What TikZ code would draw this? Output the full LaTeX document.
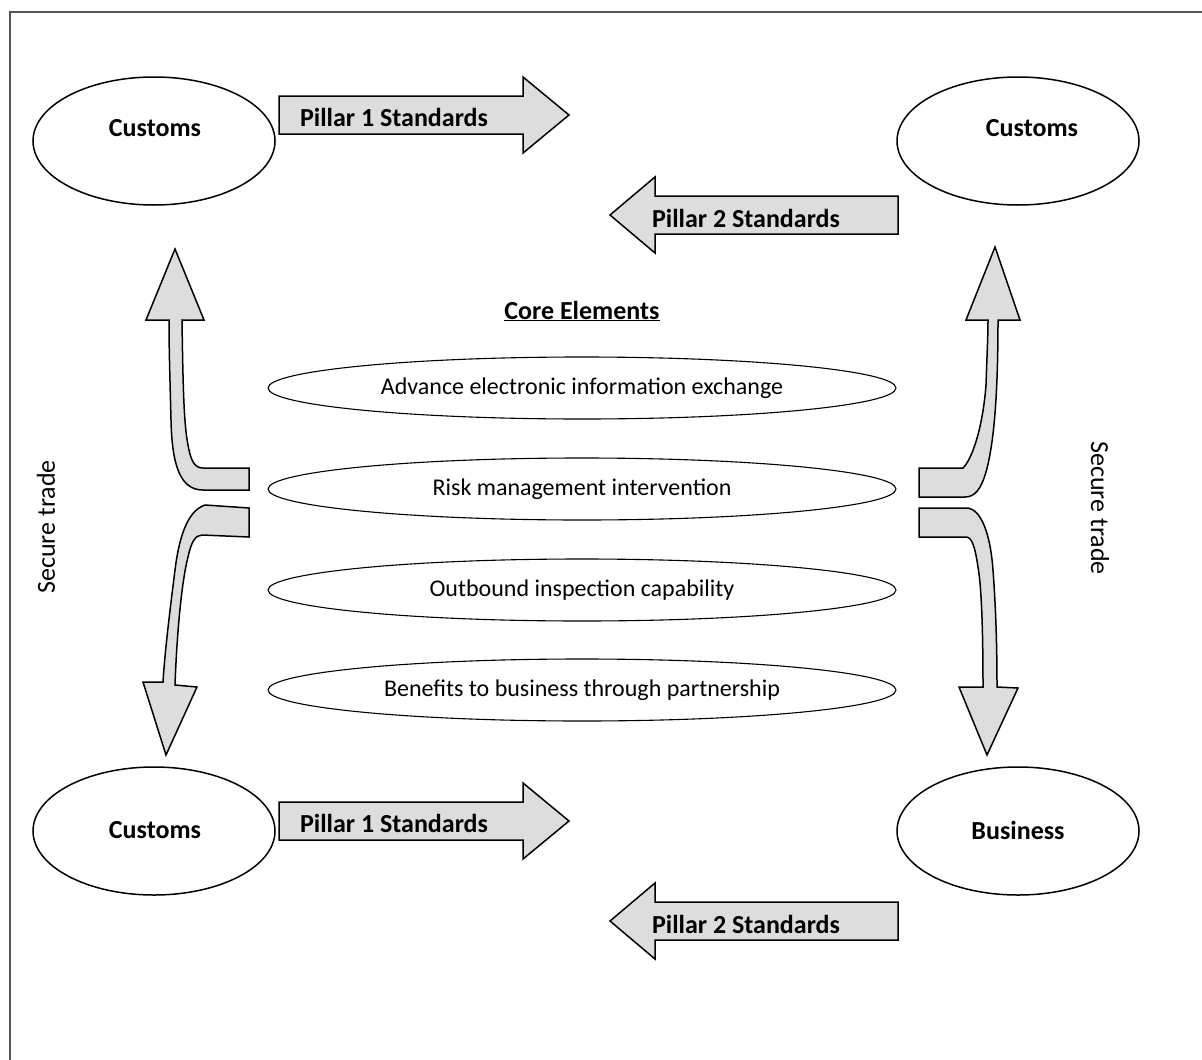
\documentclass[tikz,border=0pt]{standalone}
\usepackage{fontspec}
\setmainfont{Carlito}
\usepackage{tikz}
\usetikzlibrary{shapes.geometric, positioning, calc}
\definecolor{arrowgray}{HTML}{DDDDDD}
\definecolor{framegray}{HTML}{555555}

\tikzset{
  bigellipse/.style={ellipse, draw=black, line width=1.5pt, minimum width=242, minimum height=128, inner sep=0pt},
  coreellipse/.style={ellipse, draw=black, line width=1.1pt, minimum width=628, minimum height=62, inner sep=0pt},
  blockarrow/.style={fill=arrowgray, draw=black, line width=1.5pt, line join=miter},
  boldlabel/.style={font=\fontsize{26}{31}\selectfont\bfseries, inner sep=0pt},
  corelabel/.style={font=\fontsize{24}{29}\selectfont, inner sep=0pt},
  sidelabel/.style={font=\fontsize{26}{31}\selectfont, inner sep=0pt}
}

\begin{document}
\begin{tikzpicture}[x=1pt, y=-1pt]
  \useasboundingbox (0,0) rectangle (1202,1060);

  % Frame (only top and left edges show)
  \draw[framegray, line width=2pt] (10,1060) -- (10,12) -- (1202,12);

  % Parties
  \node[bigellipse] (custTL) at (154,141) {};
  \node[bigellipse] (custTR) at (1018,141) {};
  \node[bigellipse] (custBL) at (154,831) {};
  \node[bigellipse] (busBR) at (1018,831) {};
  \node[boldlabel] (custTLt) at (155,128) {Customs};
  \node[boldlabel] (custTRt) at (1032,128) {Customs};
  \node[boldlabel] (custBLt) at (155,830) {Customs};
  \node[boldlabel] (busBRt) at (1018,830) {Business};

  % Pillar arrows, top pair
  \draw[blockarrow] (279,96) -- (523,96) -- (523,77) -- (569,115) -- (523,153) -- (523,134) -- (279,134) -- cycle;
  \draw[blockarrow] (898,196) -- (655,196) -- (655,177) -- (610,215) -- (655,253) -- (655,234) -- (898,234) -- cycle;
  \node[boldlabel] (pil1top) at (394,117) {Pillar 1 Standards};
  \node[boldlabel] (pil2top) at (746,218) {Pillar 2 Standards};

  % Pillar arrows, bottom pair
  \draw[blockarrow] (279,802) -- (523,802) -- (523,783) -- (569,821) -- (523,859) -- (523,840) -- (279,840) -- cycle;
  \draw[blockarrow] (898,902) -- (655,902) -- (655,883) -- (610,921) -- (655,959) -- (655,940) -- (898,940) -- cycle;
  \node[boldlabel] (pil1bot) at (394,823) {Pillar 1 Standards};
  \node[boldlabel] (pil2bot) at (746,924) {Pillar 2 Standards};

  % Core elements
  \node[boldlabel] (coretitle) at (582,311) {\underline{Core Elements}};
  \foreach \y/\name/\txt in {
    388/adv/Advance electronic information exchange,
    489/risk/Risk management intervention,
    590/outb/Outbound inspection capability,
    690/bene/Benefits to business through partnership
  } {
    \node[coreellipse] (\name) at (582,\y) {};
    \node[corelabel] at (\name.center) {\txt};
  }

  % Curved arrows, left side
  \draw[blockarrow] (175,249) -- (204,320) -- (182,320)
    .. controls (183,390) and (184,425) .. (188,445)
    .. controls (191,462) and (195,468) .. (203,468)
    -- (249,468) -- (249,490) -- (203,490)
    .. controls (180,490) and (172,465) .. (171,420)
    .. controls (170,380) and (169,350) .. (169,320)
    -- (146,320) -- cycle;
  \draw[blockarrow] (249,508) -- (205,505)
    .. controls (190,510) and (180,530) .. (175,570)
    .. controls (170,610) and (165,650) .. (163,682)
    -- (143,682) -- (166,755) -- (197,687) -- (175,685)
    .. controls (177,630) and (182,580) .. (188,557)
    .. controls (191,543) and (195,535) .. (202,535)
    -- (249,537) -- cycle;

  % Curved arrows, right side
  \draw[blockarrow] (995,247) -- (1020,320) -- (998,320)
    .. controls (998,385) and (995,440) .. (986,472)
    .. controls (981,489) and (975,497) .. (965,497)
    -- (919,497) -- (919,468) -- (963,468)
    .. controls (973,458) and (983,425) .. (986,385)
    .. controls (987,355) and (988,335) .. (988,320)
    -- (966,320) -- cycle;
  \draw[blockarrow] (919,508) -- (968,508)
    .. controls (980,510) and (990,530) .. (993,570)
    .. controls (996,610) and (997,650) .. (997,687)
    -- (1018,688) -- (987,755) -- (959,687) -- (983,687)
    .. controls (983,640) and (982,590) .. (978,567)
    .. controls (975,547) and (972,537) .. (966,537)
    -- (919,537) -- cycle;

  % Side labels
  \node[sidelabel, rotate=90] (secL) at (46,527) {Secure trade};
  \node[sidelabel, rotate=-90] (secR) at (1100,508) {Secure trade};
\end{tikzpicture}
\end{document}
